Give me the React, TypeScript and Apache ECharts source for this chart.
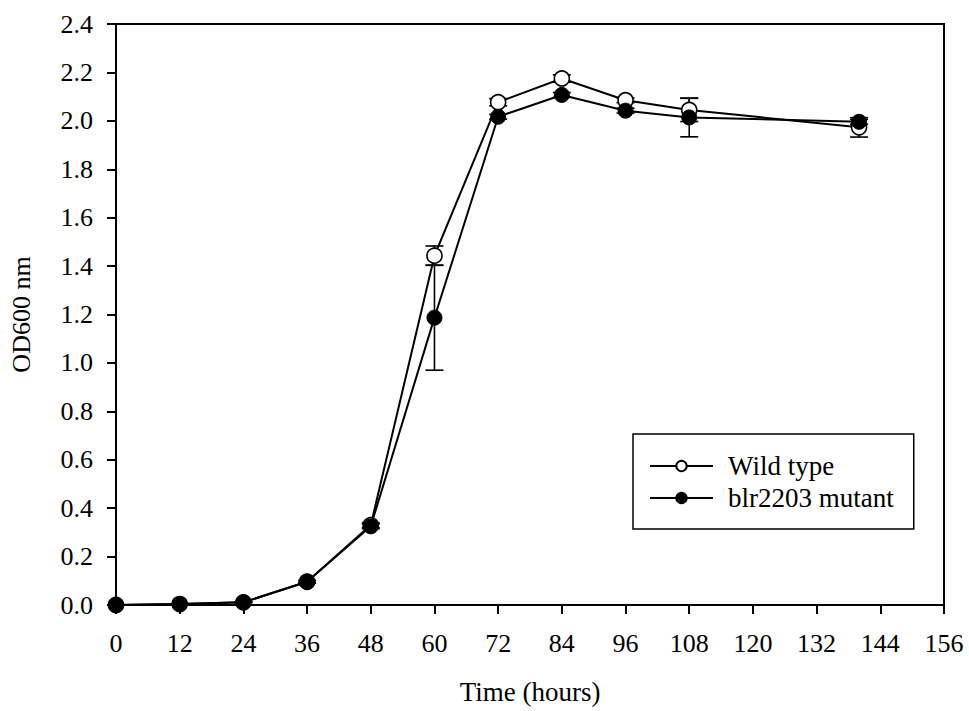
import React, { useEffect, useRef } from "react";
import * as echarts from "echarts";

const hours = [0, 12, 24, 36, 48, 60, 72, 84, 96, 108, 140];
const wildType = [0.0, 0.004, 0.011, 0.096, 0.33, 1.443, 2.077, 2.175, 2.085, 2.045, 1.973];
const wildTypeErr = [0, 0, 0, 0.005, 0.01, 0.04, 0.015, 0.015, 0.01, 0.048, 0.04];
const mutant = [0.0, 0.004, 0.011, 0.096, 0.325, 1.187, 2.017, 2.107, 2.042, 2.014, 1.996];
const mutantErr = [0, 0, 0, 0.005, 0.01, 0.217, 0.01, 0.01, 0.01, 0.08, 0.01];
const xTicks = { min: 0, max: 156, interval: 12 };
const yTicks = { min: 0, max: 2.4, interval: 0.2 };

const FONT = "'Liberation Serif', 'Times New Roman', serif";

function errorSeries(name: string, vals: number[], errs: number[]) {
  const data = hours.map((h, i) => [h, vals[i] - errs[i], vals[i] + errs[i]]);
  return {
    type: "custom",
    name: name + " err",
    z: 1,
    silent: true,
    renderItem: (params: any, api: any) => {
      const x = api.value(0);
      const lo = api.coord([x, api.value(1)]);
      const hi = api.coord([x, api.value(2)]);
      const hw = 9;
      const style = { stroke: "#000", lineWidth: 1.6, fill: "none" };
      return {
        type: "group",
        children: [
          { type: "line", shape: { x1: lo[0], y1: lo[1], x2: hi[0], y2: hi[1] }, style },
          { type: "line", shape: { x1: lo[0] - hw, y1: lo[1], x2: lo[0] + hw, y2: lo[1] }, style },
          { type: "line", shape: { x1: hi[0] - hw, y1: hi[1], x2: hi[0] + hw, y2: hi[1] }, style },
        ],
      };
    },
    data,
  };
}

export default function App() {
  const ref = useRef<HTMLDivElement>(null);
  useEffect(() => {
    if (!ref.current) return;
    const chart = echarts.init(ref.current, null, { renderer: "svg" });
    chart.setOption({
      animation: false,
      backgroundColor: "#fff",
      textStyle: { fontFamily: FONT, color: "#000" },
      grid: {
        left: 116,
        top: 24,
        right: 25,
        bottom: 106,
        show: true,
        borderColor: "#000",
        borderWidth: 2,
        backgroundColor: "transparent",
      },
      legend: {
        orient: "vertical",
        left: 633,
        top: 434,
        padding: [17, 20, 16, 16],
        itemGap: 2,
        itemWidth: 63,
        itemHeight: 13,
        borderColor: "#000",
        borderWidth: 1.5,
        textStyle: {
          fontFamily: FONT,
          fontSize: 27,
          lineHeight: 30,
          color: "#000",
          padding: [0, 0, 0, 10],
        },
        data: ["Wild type", "blr2203 mutant"],
      },
      xAxis: {
        type: "value",
        min: xTicks.min,
        max: xTicks.max,
        interval: xTicks.interval,
        name: "Time (hours)",
        nameLocation: "middle",
        nameGap: 73,
        nameTextStyle: { fontFamily: FONT, fontSize: 27, color: "#000" },
        axisLine: { show: true, onZero: false, lineStyle: { color: "#000", width: 2 } },
        axisTick: { show: true, length: 9, lineStyle: { color: "#000", width: 2 } },
        axisLabel: { fontFamily: FONT, fontSize: 26, color: "#000", margin: 25 },
        splitLine: { show: false },
      },
      yAxis: {
        type: "value",
        min: yTicks.min,
        max: yTicks.max,
        interval: yTicks.interval,
        name: "OD600 nm",
        nameLocation: "middle",
        nameGap: 82,
        nameTextStyle: { fontFamily: FONT, fontSize: 26, color: "#000" },
        axisLine: { show: true, lineStyle: { color: "#000", width: 2 } },
        axisTick: { show: true, length: 9, lineStyle: { color: "#000", width: 2 } },
        axisLabel: {
          fontFamily: FONT,
          fontSize: 26,
          color: "#000",
          margin: 23,
          formatter: (v: number) => v.toFixed(1),
        },
        splitLine: { show: false },
      },
      series: [
        errorSeries("Wild type", wildType, wildTypeErr),
        errorSeries("blr2203 mutant", mutant, mutantErr),
        {
          type: "line",
          name: "Wild type",
          z: 3,
          data: hours.map((h, i) => [h, wildType[i]]),
          symbol: "circle",
          symbolSize: 15,
          lineStyle: { color: "#000", width: 2 },
          itemStyle: { color: "#fff", borderColor: "#000", borderWidth: 1.6 },
        },
        {
          type: "line",
          name: "blr2203 mutant",
          z: 4,
          data: hours.map((h, i) => [h, mutant[i]]),
          symbol: "circle",
          symbolSize: 15,
          lineStyle: { color: "#000", width: 2 },
          itemStyle: { color: "#000", borderColor: "#000", borderWidth: 1 },
        },
      ],
    });
    return () => chart.dispose();
  }, []);
  return <div ref={ref} style={{ width: 969, height: 711, position: "absolute", left: 0, top: 0 }} />;
}
